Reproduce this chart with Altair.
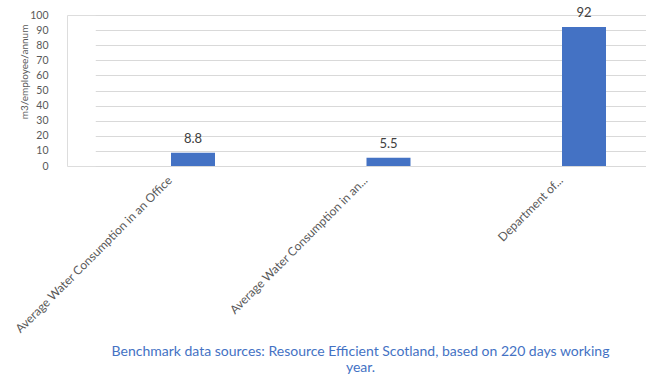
import altair as alt
import pandas as pd

categories = [
    "Average Water Consumption in an Office",
    "Average Water Consumption in an...",
    "Department of...",
]
values = [8.8, 5.5, 92]
labels = ["8.8", "5.5", "92"]
y_ticks = [0, 10, 20, 30, 40, 50, 60, 70, 80, 90, 100]

df = pd.DataFrame({"cat": categories, "val": values, "lbl": labels})

FONT = "Lato"

x_enc = alt.X(
    "cat:N",
    sort=categories,
    scale=alt.Scale(range=[28.25, 614.75], paddingInner=0, paddingOuter=0),
    axis=alt.Axis(
        title=None,
        labelAngle=-45,
        labelAlign="right",
        labelBaseline="middle",
        labelPadding=12,
        labelOffset=-23,
        labelFont=FONT,
        labelFontSize=12,
        labelColor="#595959",
        labelLimit=400,
        domain=False,
        ticks=False,
        grid=False,
    ),
)

y_enc = alt.Y(
    "val:Q",
    scale=alt.Scale(domain=[0, 100], nice=False),
    axis=alt.Axis(
        title="m3/employee/annum",
        values=y_ticks,
        labelOverlap=False,
        titleFont=FONT,
        titleFontSize=10,
        titleFontWeight="normal",
        titleColor="#595959",
        titleAngle=-90,
        titleX=-43,
        titleY=56.5,
        titleAlign="center",
        titleBaseline="middle",
        labelFont=FONT,
        labelFontSize=10.5,
        labelColor="#595959",
        labelPadding=19,
        domain=False,
        ticks=False,
        grid=True,
        gridColor="#D9D9D9",
        gridWidth=1,
    ),
)

base = alt.Chart(df).encode(x=x_enc, y=y_enc)

bars = base.mark_bar(color="#4472C4", size=44)

text = base.mark_text(
    dy=-14, font=FONT, fontSize=13, color="#404040", baseline="middle"
).encode(text="lbl:N")

chart = (
    alt.layer(bars, text)
    .properties(
        width=579,
        height=151,
        autosize=alt.AutoSizeParams(type="none"),
        padding={"left": 67, "top": 15, "right": 0, "bottom": 216},
        title=alt.TitleParams(
            text=[
                "Benchmark data sources: Resource Efficient Scotland, based on 220 days working",
                "year.",
            ],
            orient="bottom",
            anchor="middle",
            font=FONT,
            fontSize=14,
            fontWeight="normal",
            color="#4472C4",
            lineHeight=16,
            offset=10,
            dx=4,
        ),
    )
    .configure_view(stroke=None)
    .configure(background="white")
)

chart.save("out.html", embed_options={"renderer": "svg", "actions": False})
